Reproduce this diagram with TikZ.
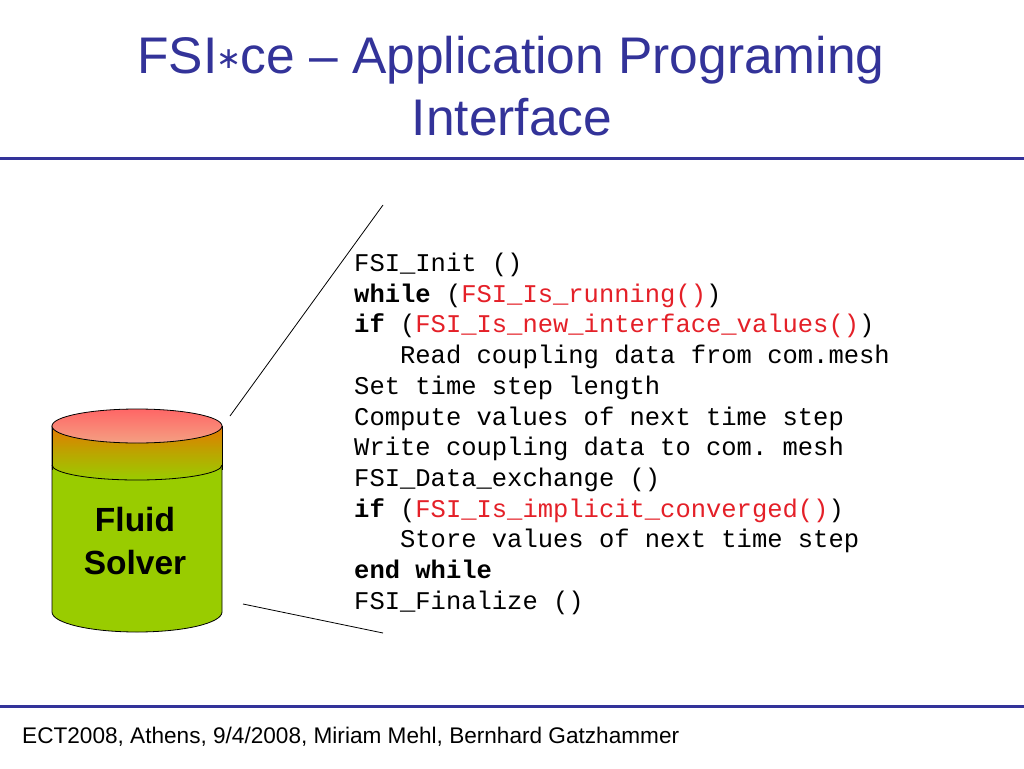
\documentclass[tikz,border=0pt]{standalone}
\usepackage{fontspec}
\setmainfont{Liberation Sans}
\setmonofont{Liberation Mono}
\newfontfamily\symfont{DejaVu Sans}
\usepackage{tikz}
\definecolor{slideblue}{RGB}{51,51,153}
\definecolor{apired}{RGB}{228,32,40}
\definecolor{solvergreen}{RGB}{153,204,0}
\definecolor{solverorange}{RGB}{228,120,0}
\definecolor{solverpink}{RGB}{255,102,102}
\definecolor{solversalmon}{RGB}{244,160,130}
\newcommand{\apicall}[1]{\textcolor{apired}{#1}}
\newcommand{\titlestar}{{\symfont\fontsize{30}{30}\selectfont\kern-1pt\raisebox{5pt}{∗}\kern-1pt}}
\tikzset{
  titleline/.style={anchor=base,text=slideblue,inner sep=0pt,font=\fontsize{51.5}{62}\selectfont},
  codeline/.style={anchor=base west,inner sep=0pt,font=\ttfamily\fontsize{25.5}{30.7}\selectfont},
  rule/.style={slideblue,line width=3pt},
  edge/.style={line width=0.8pt}
}

\begin{document}
\begin{tikzpicture}[x=1pt,y=-1pt]
	\useasboundingbox (0,0) rectangle (1024,768);
	% title and rules
	\node[titleline] (title1) at (511,73) {FSI\titlestar ce -- Application Programing};
	\node[titleline] (title2) at (512,135) {Interface};
	\draw[rule] (0,158.5) -- (1024,158.5);
	\draw[rule] (0,706) -- (1024,706);
	\node[anchor=base west,inner sep=0pt,font=\fontsize{22.6}{26}\selectfont] (footer) at (22,743) {ECT2008, Athens, 9/4/2008, Miriam Mehl, Bernhard Gatzhammer};
	% solver cylinder
	\filldraw[fill=solvergreen,draw=black,edge] (52,426) -- (52,612) arc[start angle=180,end angle=360,x radius=85pt,y radius=20pt] -- (222,426) -- cycle;
	\shade[top color=solverorange,bottom color=solvergreen,middle color=solverorange!45!solvergreen] (52,426) -- (52,465) arc[start angle=180,end angle=360,x radius=85pt,y radius=15pt] -- (222,426) arc[start angle=0,end angle=-180,x radius=85pt,y radius=17pt] -- cycle;
	\draw[edge] (52,465) arc[start angle=180,end angle=360,x radius=85pt,y radius=15pt];
	\draw[edge] (52,426) -- (52,470) (222,426) -- (222,470);
	\shade[top color=solverpink,bottom color=solversalmon,draw=black,edge] (137,426) ellipse[x radius=85pt,y radius=17pt];
	\node[font=\bfseries\fontsize{33.5}{43}\selectfont,align=center] (solver) at (135,541) {Fluid\\Solver};
	% code block
	\foreach \txt [count=\i from 0] in {
		FSI\_Init (),
		\textbf{while} (\apicall{FSI\_Is\_running()}),
		\textbf{if} (\apicall{FSI\_Is\_new\_interface\_values()}),
		\hspace*{1.8em}Read coupling data from com.mesh,
		Set time step length,
		Compute values of next time step,
		Write coupling data to com. mesh,
		FSI\_Data\_exchange (),
		\textbf{if} (\apicall{FSI\_Is\_implicit\_converged()}),
		\hspace*{1.8em}Store values of next time step,
		\textbf{end while},
		FSI\_Finalize ()}
		\node[codeline] (code\i) at (354,{271.5+30.7*\i}) {\txt};
	% zoom lines
	\coordinate (cylup) at (230,416);
	\coordinate (codeup) at (383,205);
	\coordinate (cyldown) at (243,604);
	\coordinate (codedown) at (383,633);
	\draw[edge] (cylup) -- (codeup);
	\draw[edge] (cyldown) -- (codedown);
\end{tikzpicture}
\end{document}
